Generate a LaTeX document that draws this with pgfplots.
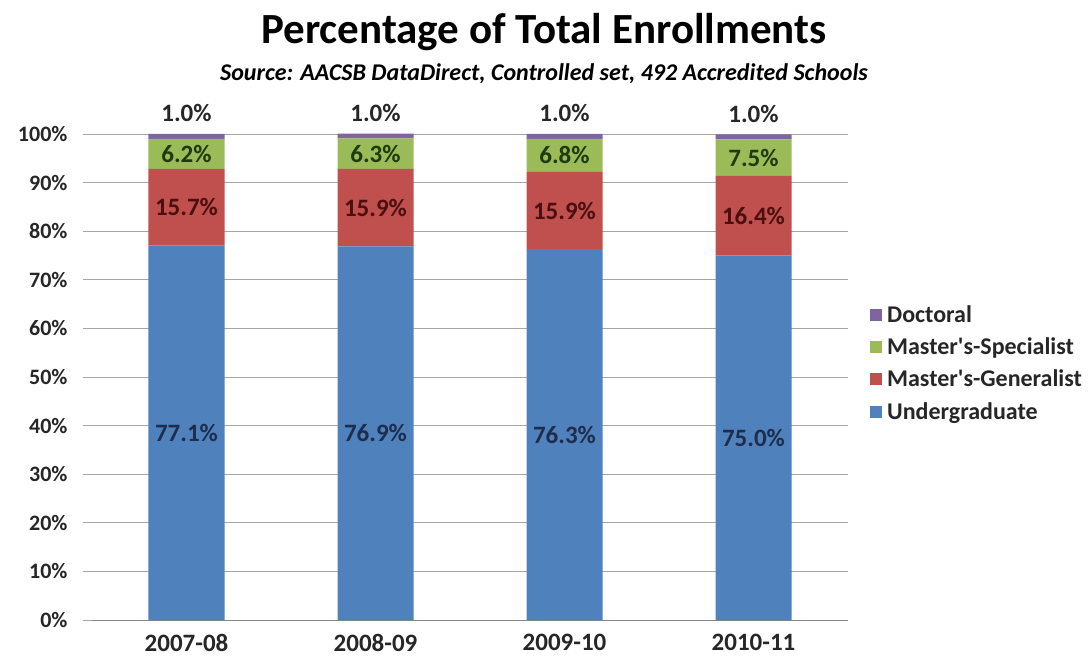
\documentclass[border=0pt]{standalone}
\usepackage{pgfplots}
\usepackage{pgfplotstable}
\pgfplotsset{compat=1.18}
\usepackage{fontspec}
\setmainfont{Carlito}[Ligatures=TeXOff]
\definecolor{cBlue}{HTML}{4F81BD}
\definecolor{cRed}{HTML}{C0504D}
\definecolor{cGreen}{HTML}{9BBB59}
\definecolor{cPurple}{HTML}{8064A2}
\definecolor{tBlue}{HTML}{1F2D4D}
\definecolor{tRed}{HTML}{4A0F0E}
\definecolor{tGreen}{HTML}{1E3A0E}
\definecolor{gridc}{HTML}{A6A6A6}
\definecolor{txt}{HTML}{262626}

\pgfplotstableread{
x under gen spec doc
0 77.1 15.7 6.2 1.0
1 76.9 15.9 6.3 1.0
2 76.3 15.9 6.8 1.0
3 75.0 16.4 7.5 1.0
}\datatable

\begin{document}
\begin{tikzpicture}
\path[use as bounding box] (-92pt,-42pt) rectangle (996pt,620pt);
\begin{axis}[
  at={(0pt,0pt)}, anchor=south west,
  scale only axis, width=756pt, height=486pt,
  clip=false,
  ybar stacked, bar width=76pt,
  xmin=-0.5, xmax=3.5, ymin=0, ymax=100,
  xtick={0,1,2,3},
  xticklabels={2007-08,2008-09,2009-10,2010-11},
  major x tick style={draw=none},
  extra x ticks={-0.5,0.5,1.5,2.5,3.5},
  extra x tick labels={},
  extra x tick style={major tick length=7pt, tick align=outside, tick style={gridc, line width=0.8pt}, grid=none},
  ytick={0,10,...,100},
  yticklabel={\pgfmathprintnumber{\tick}\%},
  ymajorgrids, grid style={gridc, line width=0.8pt},
  major y tick style={gridc, line width=0.8pt},
  major tick length=9pt, tick align=outside,
  axis x line*=bottom, axis y line*=left,
  x axis line style={gridc!80!black, line width=0.9pt},
  y axis line style={draw=none},
  ticklabel style={font=\fontsize{25}{28}\selectfont\bfseries, text=txt},
  yticklabel style={font=\fontsize{22}{26}\selectfont\bfseries, xshift=-12pt},
  /pgf/number format/assume math mode=true,
  xticklabel style={yshift=-2pt},
  reverse legend,
  legend style={at={(1.029,0.656)}, anchor=north west, draw=none, fill=none,
     inner xsep=0pt,
     font=\fontsize{24}{28}\selectfont\bfseries, text=txt, row sep=10pt,
     /tikz/every odd column/.style={column sep=3pt}},
  legend cell align=left,
  legend image code/.code={\fill[#1] (0pt,-6pt) rectangle (12pt,6pt);},
  nodes near coords={\pgfmathprintnumber[fixed,fixed zerofill,precision=1]{\pgfplotspointmeta}\%},
  nodes near coords style={font=\fontsize{25}{28}\selectfont\bfseries, anchor=center},
]
\addplot[fill=cBlue, draw=none, nodes near coords style={text=tBlue}] table[x=x,y=under]{\datatable};
\addlegendentry{Undergraduate}
\addplot[fill=cRed, draw=none, nodes near coords style={text=tRed}] table[x=x,y=gen]{\datatable};
\addlegendentry{Master's-Generalist}
\addplot[fill=cGreen, draw=none, nodes near coords style={text=tGreen}] table[x=x,y=spec]{\datatable};
\addlegendentry{Master's-Specialist}
\addplot[fill=cPurple, draw=none, nodes near coords style={text=txt, anchor=south, yshift=11pt}] table[x=x,y=doc]{\datatable};
\addlegendentry{Doctoral}
\end{axis}
\node[font=\fontsize{43}{48}\selectfont\bfseries, text=black] at (452pt,588pt) {Percentage of Total Enrollments};
\node[font=\fontsize{24}{28}\selectfont\bfseries\itshape, text=black] at (452pt,546pt) {Source: AACSB DataDirect, Controlled set, 492 Accredited Schools};
\end{tikzpicture}
\end{document}
